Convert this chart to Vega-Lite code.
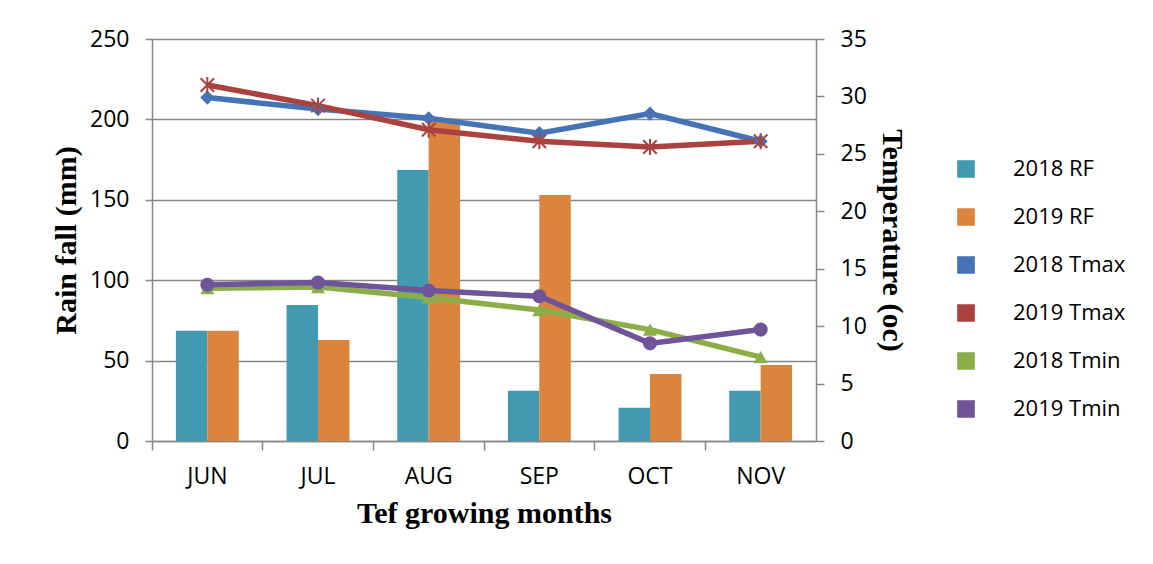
{
  "$schema": "https://vega.github.io/schema/vega-lite/v6.json",
  "width": 664,
  "height": 402,
  "autosize": {"type": "pad"},
  "padding": {"left": 51, "top": 28, "right": 5, "bottom": 5},
  "background": "white",
  "config": {
    "view": {"stroke": null},
    "axis": {
      "labelFont": "Open Sans",
      "labelFontSize": 23,
      "labelColor": "black",
      "titleFont": "Liberation Serif",
      "titleFontSize": 30,
      "titleFontWeight": "bold",
      "titleColor": "black",
      "domainColor": "#878787",
      "tickColor": "#878787",
      "gridColor": "#878787",
      "domainWidth": 1.5,
      "tickWidth": 1.5,
      "gridWidth": 1.5
    }
  },
  "data": {
    "values": [
      {"month": "JUN", "series": "2018 RF", "kind": "RF", "value": 68.5},
      {"month": "JUL", "series": "2018 RF", "kind": "RF", "value": 84.5},
      {"month": "AUG", "series": "2018 RF", "kind": "RF", "value": 168.5},
      {"month": "SEP", "series": "2018 RF", "kind": "RF", "value": 31.2},
      {"month": "OCT", "series": "2018 RF", "kind": "RF", "value": 20.7},
      {"month": "NOV", "series": "2018 RF", "kind": "RF", "value": 31.2},
      {"month": "JUN", "series": "2019 RF", "kind": "RF", "value": 68.5},
      {"month": "JUL", "series": "2019 RF", "kind": "RF", "value": 62.8},
      {"month": "AUG", "series": "2019 RF", "kind": "RF", "value": 200.5},
      {"month": "SEP", "series": "2019 RF", "kind": "RF", "value": 153},
      {"month": "OCT", "series": "2019 RF", "kind": "RF", "value": 41.7},
      {"month": "NOV", "series": "2019 RF", "kind": "RF", "value": 47.3},
      {"month": "JUN", "series": "2018 Tmax", "kind": "T", "value": 29.9},
      {"month": "JUL", "series": "2018 Tmax", "kind": "T", "value": 28.9},
      {"month": "AUG", "series": "2018 Tmax", "kind": "T", "value": 28.1},
      {"month": "SEP", "series": "2018 Tmax", "kind": "T", "value": 26.8},
      {"month": "OCT", "series": "2018 Tmax", "kind": "T", "value": 28.5},
      {"month": "NOV", "series": "2018 Tmax", "kind": "T", "value": 26.1},
      {"month": "JUN", "series": "2019 Tmax", "kind": "T", "value": 31.0},
      {"month": "JUL", "series": "2019 Tmax", "kind": "T", "value": 29.2},
      {"month": "AUG", "series": "2019 Tmax", "kind": "T", "value": 27.1},
      {"month": "SEP", "series": "2019 Tmax", "kind": "T", "value": 26.1},
      {"month": "OCT", "series": "2019 Tmax", "kind": "T", "value": 25.6},
      {"month": "NOV", "series": "2019 Tmax", "kind": "T", "value": 26.1},
      {"month": "JUN", "series": "2018 Tmin", "kind": "T", "value": 13.3},
      {"month": "JUL", "series": "2018 Tmin", "kind": "T", "value": 13.4},
      {"month": "AUG", "series": "2018 Tmin", "kind": "T", "value": 12.5},
      {"month": "SEP", "series": "2018 Tmin", "kind": "T", "value": 11.4},
      {"month": "OCT", "series": "2018 Tmin", "kind": "T", "value": 9.7},
      {"month": "NOV", "series": "2018 Tmin", "kind": "T", "value": 7.3},
      {"month": "JUN", "series": "2019 Tmin", "kind": "T", "value": 13.6},
      {"month": "JUL", "series": "2019 Tmin", "kind": "T", "value": 13.8},
      {"month": "AUG", "series": "2019 Tmin", "kind": "T", "value": 13.1},
      {"month": "SEP", "series": "2019 Tmin", "kind": "T", "value": 12.6},
      {"month": "OCT", "series": "2019 Tmin", "kind": "T", "value": 8.5},
      {"month": "NOV", "series": "2019 Tmin", "kind": "T", "value": 9.7}
    ]
  },
  "layer": [
    {
      "transform": [{"filter": "datum.kind === 'RF'"}],
      "mark": {"type": "bar"},
      "encoding": {
        "x": {
          "field": "month",
          "type": "nominal",
          "sort": ["JUN", "JUL", "AUG", "SEP", "OCT", "NOV"],
          "scale": {"paddingInner": 0, "paddingOuter": 0},
          "axis": {
            "orient": "bottom",
            "title": "Tef growing months",
            "labelAngle": 0,
            "tickSize": 9,
            "bandPosition": 0,
            "labelPadding": 15,
            "titlePadding": 10,
            "grid": false
          }
        },
        "xOffset": {
          "field": "series",
          "type": "nominal",
          "scale": {"paddingInner": 0, "paddingOuter": 0.76}
        },
        "y": {
          "field": "value",
          "type": "quantitative",
          "scale": {"domain": [0, 250], "nice": false},
          "axis": {
            "orient": "left",
            "title": "Rain fall (mm)",
            "values": [0, 50, 100, 150, 200, 250],
            "grid": true,
            "tickSize": 7,
            "labelPadding": 16,
            "titlePadding": 8
          }
        },
        "color": {
          "field": "series",
          "type": "nominal",
          "scale": {
            "domain": ["2018 RF", "2019 RF", "2018 Tmax", "2019 Tmax", "2018 Tmin", "2019 Tmin"],
            "range": ["#4299B0", "#DB843E", "#4573B5", "#AA423F", "#8BAE49", "#6F5598"]
          },
          "legend": {
            "orient": "none",
            "legendX": 803,
            "legendY": 119,
            "title": null,
            "symbolType": "square",
            "symbolSize": 260,
            "labelFont": "Open Sans",
            "labelFontSize": 22,
            "labelColor": "black",
            "rowPadding": 24,
            "labelOffset": 36
          }
        }
      }
    },
    {
      "transform": [{"filter": "datum.kind === 'T'"}],
      "encoding": {
        "x": {
          "field": "month",
          "type": "nominal",
          "sort": ["JUN", "JUL", "AUG", "SEP", "OCT", "NOV"]
        },
        "y": {
          "field": "value",
          "type": "quantitative",
          "scale": {"domain": [0, 35], "nice": false},
          "axis": {
            "orient": "right",
            "title": "Temperature (oc)",
            "values": [0, 5, 10, 15, 20, 25, 30, 35],
            "grid": false,
            "tickSize": 8,
            "labelPadding": 16,
            "titlePadding": 10
          }
        },
        "color": {"field": "series", "type": "nominal"}
      },
      "layer": [
        {"mark": {"type": "line", "strokeWidth": 5.5}},
        {
          "transform": [{"filter": "datum.series !== '2019 Tmax'"}],
          "mark": {"type": "point", "filled": true, "opacity": 1, "size": 200},
          "encoding": {
            "shape": {
              "field": "series",
              "type": "nominal",
              "scale": {
                "domain": ["2018 Tmax", "2018 Tmin", "2019 Tmin"],
                "range": ["diamond", "triangle-up", "circle"]
              },
              "legend": null
            }
          }
        },
        {
          "transform": [{"filter": "datum.series === '2019 Tmax'"}],
          "mark": {"type": "point", "filled": false, "opacity": 1, "size": 150, "strokeWidth": 2, "shape": "M-1.1,-1.1L1.1,1.1M-1.1,1.1L1.1,-1.1M0,-1.3V1.3"}
        }
      ]
    }
  ],
  "resolve": {"scale": {"y": "independent"}}
}
